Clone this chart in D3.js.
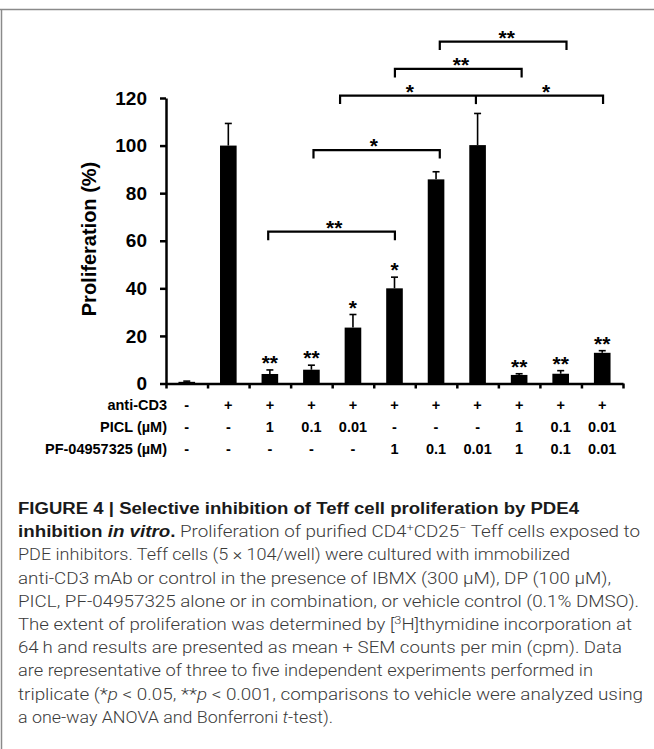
<!DOCTYPE html>
<html>
<head>
<meta charset="utf-8">
<script src="https://cdn.jsdelivr.net/npm/d3@7/dist/d3.min.js"></script>
<style>
  html, body { margin: 0; padding: 0; background: #fff; }
  svg { display: block; }
</style>
</head>
<body>
<div id="chart"></div>
<script>
// ---------------- data ----------------
const antiCD3   = ["-", "+", "+", "+", "+", "+", "+", "+", "+", "+", "+"];
const piclConc  = ["-", "-", "1", "0.1", "0.01", "-", "-", "-", "1", "0.1", "0.01"];
const pfConc    = ["-", "-", "-", "-", "-", "1", "0.1", "0.01", "1", "0.1", "0.01"];
const rowLabels = ["anti-CD3", "PICL (\u00b5M)", "PF-04957325 (\u00b5M)"];
const proliferation = [0.7, 100, 4.0, 5.8, 23.5, 40.0, 85.8, 100.2, 3.6, 4.1, 12.9];
const sem           = [0.3, 9.3, 1.7, 1.9, 5.5, 4.7, 3.2, 13.3, 0.5, 1.3, 0.9];
const barStars      = ["", "", "**", "**", "*", "*", "", "", "**", "**", "**"];
const yTicks = [0, 20, 40, 60, 80, 100, 120];
const yTitle = "Proliferation (%)";
// comparison brackets: positions in category units, height in % units
const brackets = [
  { from: 1.96, to: 5.01, y: 63.8,  mids: [],     labels: [{ at: 3.55, text: "**" }] },
  { from: 3.05, to: 6.09, y: 98.1,  mids: [],     labels: [{ at: 4.5,  text: "*" }] },
  { from: 3.69, to: 10.02, y: 121.0, mids: [6.96], labels: [{ at: 5.37, text: "*" }, { at: 8.65, text: "*" }] },
  { from: 5.01, to: 8.06, y: 132.2, mids: [],     labels: [{ at: 6.6,  text: "**" }] },
  { from: 6.09, to: 9.14, y: 143.7, mids: [],     labels: [{ at: 7.7,  text: "**" }] }
];
const captionLines = [
  [{ t: "FIGURE 4 | Selective inhibition of Teff cell proliferation by PDE4", b: true }],
  [{ t: "inhibition ", b: true }, { t: "in vitro", b: true, i: true }, { t: ".", b: true },
   { t: " Proliferation of purified CD4" }, { t: "+", sup: true }, { t: "CD25" }, { t: "\u2212", sup: true },
   { t: " Teff cells exposed to" }],
  [{ t: "PDE inhibitors. Teff cells (5 \u00d7 104/well) were cultured with immobilized" }],
  [{ t: "anti-CD3 mAb or control in the presence of IBMX (300 \u03bcM), DP (100 \u03bcM)," }],
  [{ t: "PICL, PF-04957325 alone or in combination, or vehicle control (0.1% DMSO)." }],
  [{ t: "The extent of proliferation was determined by [" }, { t: "3", sup: true }, { t: "H]thymidine incorporation at" }],
  [{ t: "64\u2009h and results are presented as mean + SEM counts per min (cpm). Data" }],
  [{ t: "are representative of three to five independent experiments performed in" }],
  [{ t: "triplicate (*" }, { t: "p", i: true }, { t: " < 0.05, **" }, { t: "p", i: true },
   { t: " < 0.001, comparisons to vehicle were analyzed using" }],
  [{ t: "a one-way ANOVA and Bonferroni " }, { t: "t", i: true }, { t: "-test)." }]
];
const captionRightEnds = [579, 640, 570, 611, 639, 632, 622, 593, 643, 333];

// ---------------- layout ----------------
const W = 654, H = 749;
const svg = d3.select("#chart").append("svg").attr("width", W).attr("height", H);
const FONT = "'Liberation Sans', Arial, Helvetica, sans-serif";
const LIGHT = "Roboto, 'Liberation Sans', Arial, sans-serif";

// frame
svg.append("line").attr("x1", 0).attr("x2", W).attr("y1", 9.5).attr("y2", 9.5)
  .attr("stroke", "#8a8a8a").attr("stroke-width", 1.5);
svg.append("line").attr("x1", 1.5).attr("x2", 1.5).attr("y1", 9.5).attr("y2", H)
  .attr("stroke", "#8a8a8a").attr("stroke-width", 1.5);

const x0 = 166, x1 = 623, yBase = 383.5, yTop = 98;
const idx = d3.range(proliferation.length);
const x = d3.scaleBand().domain(idx).range([x0, x1]).paddingInner(0.6).paddingOuter(0.3);
const step = x.step();
const xc = p => x(0) + x.bandwidth() / 2 + p * step;          // fractional category -> px
const y = d3.scaleLinear().domain([0, 120]).range([yBase, yTop]);

const g = svg.append("g");

// bars
g.selectAll("rect.bar").data(idx).join("rect")
  .attr("x", i => x(i)).attr("width", x.bandwidth())
  .attr("y", i => y(proliferation[i]))
  .attr("height", i => y(0) - y(proliferation[i]))
  .attr("fill", "#000");

// error bars (upper only)
const cap = 7;
idx.forEach(i => {
  const cx = x(i) + x.bandwidth() / 2;
  g.append("line").attr("x1", cx).attr("x2", cx)
    .attr("y1", y(proliferation[i])).attr("y2", y(proliferation[i] + sem[i]))
    .attr("stroke", "#000").attr("stroke-width", 1.6);
  g.append("line").attr("x1", cx - cap / 2).attr("x2", cx + cap / 2)
    .attr("y1", y(proliferation[i] + sem[i])).attr("y2", y(proliferation[i] + sem[i]))
    .attr("stroke", "#000").attr("stroke-width", 1.6);
});

// stars above bars
g.selectAll("text.star").data(idx.filter(i => barStars[i])).join("text")
  .attr("x", i => x(i) + x.bandwidth() / 2)
  .attr("y", i => y(proliferation[i] + sem[i]))
  .attr("text-anchor", "middle")
  .attr("font-family", FONT).attr("font-weight", "bold").attr("font-size", 21)
  .text(i => barStars[i]);

// brackets
const leg = 8.5;
brackets.forEach(b => {
  const yy = y(b.y);
  const pts = [[xc(b.from), yy + leg], [xc(b.from), yy], [xc(b.to), yy], [xc(b.to), yy + leg]];
  g.append("path").attr("d", d3.line()(pts)).attr("fill", "none")
    .attr("stroke", "#000").attr("stroke-width", 2.2).attr("stroke-linejoin", "miter");
  b.mids.forEach(m => {
    g.append("line").attr("x1", xc(m)).attr("x2", xc(m)).attr("y1", yy).attr("y2", yy + leg)
      .attr("stroke", "#000").attr("stroke-width", 2.2);
  });
  b.labels.forEach(l => {
    g.append("text").attr("x", xc(l.at)).attr("y", yy + 3)
      .attr("text-anchor", "middle")
      .attr("font-family", FONT).attr("font-weight", "bold").attr("font-size", 21)
      .text(l.text);
  });
});

// y axis
const yAxis = d3.axisLeft(y).tickValues(yTicks).tickSize(6).tickSizeOuter(0).tickPadding(13);
const ya = svg.append("g").attr("transform", `translate(${x0},0)`).call(yAxis);
ya.select(".domain").attr("stroke", "#000").attr("stroke-width", 2.5);
ya.selectAll(".tick line").attr("stroke", "#000").attr("stroke-width", 2.5);
ya.selectAll(".tick text").attr("font-family", FONT).attr("font-weight", "bold")
  .attr("font-size", 19).attr("fill", "#000");

// x axis (ticks at category boundaries)
const xb = d3.scaleLinear().domain([0, idx.length]).range([x0, x1]);
const xAxis = d3.axisBottom(xb).tickValues(d3.range(idx.length + 1)).tickFormat("").tickSize(5).tickSizeOuter(0);
const xa = svg.append("g").attr("transform", `translate(0,${yBase})`).call(xAxis);
xa.select(".domain").attr("stroke", "#000").attr("stroke-width", 2.5);
xa.selectAll(".tick line").attr("stroke", "#000").attr("stroke-width", 2.5);

// y title
svg.append("text")
  .attr("transform", `translate(96,239) rotate(-90)`)
  .attr("text-anchor", "middle")
  .attr("font-family", FONT).attr("font-weight", "bold").attr("font-size", 20)
  .text(yTitle);

// condition table
const rows = [antiCD3, piclConc, pfConc];
const rowY = [405, 427, 449];
rows.forEach((row, r) => {
  svg.append("text").attr("x", 167).attr("y", rowY[r]).attr("dy", "0.35em")
    .attr("text-anchor", "end")
    .attr("font-family", FONT).attr("font-weight", "bold").attr("font-size", 14.5)
    .text(rowLabels[r]);
  svg.selectAll(null).data(row).join("text")
    .attr("x", (d, i) => x(i) + x.bandwidth() / 2)
    .attr("y", rowY[r]).attr("dy", "0.35em")
    .attr("text-anchor", "middle")
    .attr("font-family", FONT).attr("font-weight", "bold").attr("font-size", 14.5)
    .text(d => d);
});

// caption
captionLines.forEach((parts, li) => {
  const t = svg.append("text")
    .attr("x", 18).attr("y", 514 + li * 23.2)
    .attr("font-family", LIGHT).attr("font-weight", 300).attr("font-size", 16).attr("fill", "#3a3a3a");
  parts.forEach(p => {
    const s = t.append("tspan").text(p.t);
    if (p.b) s.attr("font-family", FONT).attr("font-weight", "bold").attr("fill", "#1a1a1a");
    if (p.i) s.attr("font-style", "italic");
    if (p.sup) s.attr("baseline-shift", "super").attr("font-size", 11);
  });
  t.attr("textLength", captionRightEnds[li] - 18).attr("lengthAdjust", "spacingAndGlyphs");
});
</script>
</body>
</html>
